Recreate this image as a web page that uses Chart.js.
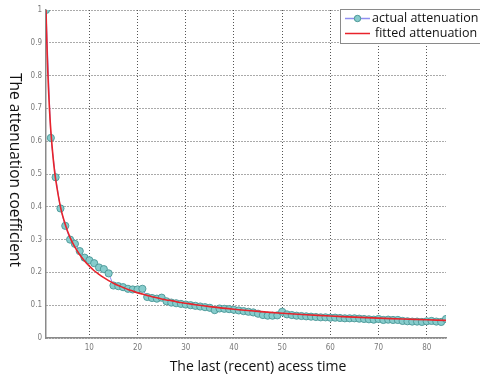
<!DOCTYPE html>
<html>
<head>
<meta charset="utf-8">
<script src="https://cdn.jsdelivr.net/npm/chart.js@4/dist/chart.umd.min.js"></script>
<style>
html,body{margin:0;padding:0;background:#fff;}
#wrap{width:480px;height:378px;position:relative;}
</style>
</head>
<body>
<div id="wrap"><canvas id="c" width="480" height="378"></canvas></div>
<script>
// ---- data ----
const accessTime = [1,2,3,4,5,6,7,8,9,10,11,12,13,14,15,16,17,18,19,20,21,22,23,24,25,26,27,28,29,30,31,32,33,34,35,36,37,38,39,40,41,42,43,44,45,46,47,48,49,50,51,52,53,54,55,56,57,58,59,60,61,62,63,64,65,66,67,68,69,70,71,72,73,74,75,76,77,78,79,80,81,82,83,84];
const actualAttenuation = [1.0,0.61,0.49,0.395,0.342,0.30,0.287,0.265,0.245,0.237,0.228,0.215,0.21,0.197,0.16,0.158,0.155,0.15,0.148,0.148,0.15,0.125,0.122,0.12,0.123,0.112,0.108,0.106,0.104,0.102,0.1,0.098,0.096,0.094,0.092,0.085,0.09,0.089,0.088,0.086,0.084,0.082,0.08,0.078,0.074,0.07,0.068,0.068,0.069,0.08,0.072,0.07,0.068,0.067,0.066,0.065,0.064,0.063,0.063,0.062,0.062,0.061,0.06,0.06,0.06,0.059,0.058,0.057,0.056,0.058,0.055,0.056,0.055,0.055,0.052,0.051,0.05,0.05,0.049,0.051,0.052,0.05,0.049,0.058];
const fittedTime = [1,1.25,1.5,1.75,2,2.5,3,4,5,6,7,8,9,10,11,12,13,14,15,16,17,18,19,20,21,22,23,24,25,26,27,28,29,30,32,35,40,45,50,55,60,65,70,75,80,84];
const fittedAttenuation = [1.0,0.863,0.765,0.691,0.633,0.546,0.484,0.400,0.346,0.306,0.277,0.254,0.235,0.219,0.205,0.194,0.184,0.175,0.167,0.160,0.154,0.148,0.143,0.138,0.134,0.130,0.126,0.123,0.119,0.116,0.114,0.111,0.108,0.106,0.1015,0.0957,0.0876,0.0811,0.0756,0.0710,0.0670,0.0636,0.0606,0.0579,0.0555,0.0537];
const xTicks = [10,20,30,40,50,60,70,80];
const yTicks = [0,0.1,0.2,0.3,0.4,0.5,0.6,0.7,0.8,0.9,1];
const seriesNames = ['actual attenuation','fitted attenuation'];
const xTitle = 'The last (recent) acess time';
const yTitle = 'The attenuation coefficient';

const actualPts = accessTime.map((x,i)=>({x:x,y:actualAttenuation[i]}));
const fittedPts = fittedTime.map((x,i)=>({x:x,y:fittedAttenuation[i]}));

const COL_ACT_LINE = '#8f8ff0';
const COL_ACT_FILL = '#86cccc';
const COL_ACT_EDGE = '#4a9696';
const COL_FIT = '#e8232b';

const overlay = {
  id:'overlay',
  afterDraw(chart){
    const ctx = chart.ctx;
    ctx.save();
    // x title
    ctx.fillStyle = '#111';
    ctx.font = '14px "Open Sans", sans-serif';
    ctx.textAlign = 'center';
    ctx.textBaseline = 'middle';
    ctx.fillText(xTitle, 258, 367);
    // y title rotated clockwise
    ctx.save();
    ctx.translate(14, 170);
    ctx.rotate(Math.PI/2);
    ctx.font = '15.5px "Open Sans", sans-serif';
    ctx.fillText(yTitle, 0, 0);
    ctx.restore();
    // legend
    const lx = 340.5, ly = 9.5, lw = 150, lh = 34;
    ctx.fillStyle = '#fff';
    ctx.fillRect(lx, ly, lw, lh);
    ctx.strokeStyle = '#8a8a8a';
    ctx.lineWidth = 1;
    ctx.strokeRect(lx, ly, lw, lh);
    // row 1
    ctx.strokeStyle = COL_ACT_LINE;
    ctx.lineWidth = 1.5;
    ctx.beginPath(); ctx.moveTo(345, 18.5); ctx.lineTo(370, 18.5); ctx.stroke();
    ctx.beginPath(); ctx.arc(357.5, 18.5, 3.2, 0, Math.PI*2);
    ctx.fillStyle = COL_ACT_FILL; ctx.fill();
    ctx.strokeStyle = COL_ACT_EDGE; ctx.lineWidth = 1; ctx.stroke();
    // row 2
    ctx.strokeStyle = COL_FIT; ctx.lineWidth = 1.5;
    ctx.beginPath(); ctx.moveTo(345, 33.5); ctx.lineTo(370, 33.5); ctx.stroke();
    ctx.fillStyle = '#111';
    ctx.font = '12.5px "Open Sans", sans-serif';
    ctx.textAlign = 'left';
    ctx.fillText(seriesNames[0], 372, 18);
    ctx.fillText(seriesNames[1], 375, 33);
    ctx.restore();
  }
};

new Chart(document.getElementById('c'), {
  type:'scatter',
  data:{
    datasets:[
      {
        label: seriesNames[0],
        data: actualPts,
        showLine:true,
        borderColor: COL_ACT_LINE,
        borderWidth: 1,
        pointRadius: 3.6,
        pointBackgroundColor: COL_ACT_FILL,
        pointBorderColor: COL_ACT_EDGE,
        pointBorderWidth: 0.9,
        order: 2
      },
      {
        label: seriesNames[1],
        data: fittedPts,
        showLine:true,
        borderColor: COL_FIT,
        borderWidth: 1.6,
        pointRadius: 0,
        tension: 0.3,
        order: 1
      }
    ]
  },
  options:{
    responsive:false,
    animation:false,
    events:[],
    layout:{padding:{top:10,right:34,left:0,bottom:0}},
    plugins:{legend:{display:false},tooltip:{enabled:false}},
    scales:{
      x:{
        type:'linear', min:1, max:84,
        afterFit(s){ s.height = 40; },
        afterBuildTicks(s){ s.ticks = xTicks.map(v=>({value:v})); },
        ticks:{ color:'#7a7a7a', font:{size:8, family:'"DejaVu Sans Condensed", "Liberation Sans Narrow", sans-serif'}, padding:5, maxRotation:0, callback:v=>String(v) },
        grid:{ color:'#555', lineWidth:1, drawTicks:false },
        border:{ display:true, color:'#8a8a8a', width:1.5, dash:[1,2] }
      },
      y:{
        type:'linear', min:0, max:1,
        afterFit(s){ s.width = 46; },
        afterBuildTicks(s){ s.ticks = yTicks.map(v=>({value:v})); },
        ticks:{ color:'#7a7a7a', font:{size:8, family:'"DejaVu Sans Condensed", "Liberation Sans Narrow", sans-serif'}, padding:4, callback:v=>String(v) },
        grid:{ color:'#555', lineWidth:1, drawTicks:false },
        border:{ display:true, color:'#8a8a8a', width:1.5, dash:[1,2] }
      }
    }
  },
  plugins:[overlay]
});
</script>
</body>
</html>
